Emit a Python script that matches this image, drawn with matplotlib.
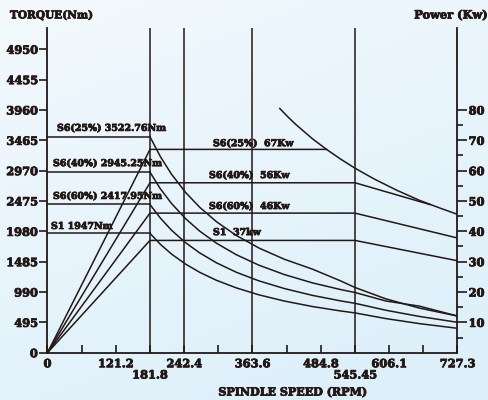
import numpy as np
import matplotlib
matplotlib.use('Agg')
import matplotlib.pyplot as plt
import matplotlib.patheffects as pe
import matplotlib.transforms as mtrans

# --- data ---
# constant torque region (0 .. base speed)
base_speed = 181.8
torque_levels = [3522.76, 2945.25, 2417.95, 1947]          # Nm
torque_labels = ['S6(25%) 3522.76Nm', 'S6(40%) 2945.25Nm', 'S6(60%) 2417.95Nm', 'S1 1947Nm']
power_labels = ['S6(25%)  67Kw', 'S6(40%)  56Kw', 'S6(60%)  46Kw', 'S1  37kw']

# torque curves above base speed (rpm, Nm)
torque_speed = [181.8, 200, 220, 245, 270, 300, 335, 375, 420, 470, 520, 545.45, 600, 660, 727.3]
torque_s6_25 = [3523, 3202, 2911, 2614, 2372, 2135, 1912, 1708, 1525, 1363, 1171, 1064, 879, 727, 598]
torque_s6_40 = [2945, 2677, 2434, 2186, 1983, 1785, 1598, 1428, 1275, 1139, 1030, 982, 844, 759, 598]
torque_s6_60 = [2418, 2198, 1998, 1794, 1628, 1465, 1312, 1172, 1047, 935, 845, 806, 693, 591, 496]
torque_s1 = [1947, 1770, 1609, 1445, 1311, 1180, 1057, 944, 843, 753, 681, 649, 557, 474, 398]

# power curves (rpm, kW)
power_s6_25_speed = [0, 181.8, 495]
power_s6_25 = [0, 67, 67]
falloff_speed = [412, 426, 440, 455, 470, 495, 520, 545.45, 580, 620, 660, 700, 727.3]
falloff_power = [80.5, 77.8, 75.3, 72.9, 70.5, 67.0, 63.8, 60.8, 57.2, 53.5, 50.2, 47.4, 45.6]
power_s6_40_speed = [0, 181.8, 545.45, 679]
power_s6_40 = [0, 56, 56, 48.8]
power_s6_60_speed = [0, 181.8, 545.45, 727.3]
power_s6_60 = [0, 46, 46, 37.8]
power_s1_speed = [0, 181.8, 545.45, 727.3]
power_s1 = [0, 37, 37, 30.3]

x_ticks = [0, 60.6, 121.2, 181.8, 242.4, 303, 363.6, 424.2, 484.8, 545.45, 606.1, 666.7, 727.3]
x_ticklabels = ['0', '', '121.2', '', '242.4', '', '363.6', '', '484.8', '', '606.1', '', '727.3']
x_lower_ticks = [181.8, 545.45]
x_lower_labels = ['181.8', '545.45']
y_ticks = [0, 495, 990, 1485, 1980, 2475, 2970, 3465, 3960, 4455, 4950]
power_ticks = [10, 20, 30, 40, 50, 60, 70, 80]
vlines = [181.8, 242.4, 363.6, 545.45]

INK = '#231815'
HEAVY = [pe.withStroke(linewidth=0.6, foreground=INK)]
FONT = dict(family='DejaVu Serif', weight='bold', color=INK, path_effects=HEAVY)

fig = plt.figure(figsize=(4.89, 4.0), dpi=100)

# light blue gradient background
bg = fig.add_axes([0, 0, 1, 1], zorder=-10)
gx, gy = np.meshgrid(np.linspace(0, 1, 200), np.linspace(0, 1, 200))
t = np.clip(0.35 * gx + 0.75 * gy, 0, 1)[..., None]
c0 = np.array([243, 249, 253]) / 255
c1 = np.array([221, 240, 250]) / 255
bg.imshow(c0 + (c1 - c0) * t, aspect='auto', extent=[0, 1, 0, 1], origin='upper')
bg.axis('off')

ax = fig.add_axes([47.5 / 489, 1 - 352.7 / 400, 410 / 489, 324.4 / 400])
ax.patch.set_alpha(0)
ax2 = ax.twinx()
ax2.patch.set_alpha(0)

ymax = 5292
ax.set_xlim(0, 727.3)
ax.set_ylim(0, ymax)
ax2.set_ylim(0, ymax / 49.5)

lw = 1.1
for v in vlines:
    ax.axvline(v, color=INK, lw=lw)

# constant torque lines
for T in torque_levels:
    ax.plot([0, base_speed], [T, T], color=INK, lw=lw)

# descending torque curves
for tc in [torque_s6_25, torque_s6_40, torque_s6_60, torque_s1]:
    ax.plot(torque_speed, tc, color=INK, lw=lw)

# power curves on right axis
ax2.plot(power_s6_25_speed, power_s6_25, color=INK, lw=lw)
ax2.plot(falloff_speed, falloff_power, color=INK, lw=lw)
ax2.plot(power_s6_40_speed, power_s6_40, color=INK, lw=lw)
ax2.plot(power_s6_60_speed, power_s6_60, color=INK, lw=lw)
ax2.plot(power_s1_speed, power_s1, color=INK, lw=lw)

# labels
tx = [16.9, 9.8, 9.8, 6.2]
ty = [3660, 3085, 2550, 2060]
for x0, y0, s in zip(tx, ty, torque_labels):
    ax.text(x0, y0, s, fontsize=6.8, va='center', ha='left', **FONT)
px = [293.6, 286.5, 286.5, 293.6]
py = [3410, 2890, 2385, 1960]
for x0, y0, s in zip(px, py, power_labels):
    ax.text(x0, y0, s, fontsize=6.8, va='center', ha='left', **FONT)

# axes styling
for a in (ax, ax2):
    a.spines['top'].set_visible(False)
    for sp in a.spines.values():
        sp.set_color(INK)
        sp.set_linewidth(1.3)
ax.spines['right'].set_visible(False)
ax2.spines['left'].set_visible(False)
ax2.spines['bottom'].set_visible(False)

ax.set_xticks(x_ticks)
ax.set_xticklabels(x_ticklabels)
ax.tick_params(axis='x', direction='in', length=6, width=1.2, color=INK, pad=4)
ax.set_yticks(y_ticks)
ax.set_yticklabels([str(v) for v in y_ticks])
ax.tick_params(axis='y', direction='out', length=6, width=1.2, color=INK, pad=1)
for lab in ax.get_xticklabels() + ax.get_yticklabels():
    lab.set_fontfamily('DejaVu Serif')
    lab.set_fontweight('bold')
    lab.set_fontsize(8.2)
    lab.set_color(INK)
    lab.set_path_effects(HEAVY)

# lower row of speed labels
trans = mtrans.blended_transform_factory(ax.transData, fig.transFigure)
for xv, s in zip(x_lower_ticks, x_lower_labels):
    ax.text(xv, 1 - 375 / 400, s, transform=trans, fontsize=8.2, ha='center', va='center', **FONT)

ax2.set_yticks(power_ticks)
ax2.set_yticklabels([str(v) for v in power_ticks])
ax2.set_yticks(np.arange(5, 85, 10), minor=True)
ax2.tick_params(axis='y', which='major', direction='out', length=7, width=1.2, color=INK, pad=1)
ax2.tick_params(axis='y', which='minor', direction='out', length=4, width=1.2, color=INK)
for lab in ax2.get_yticklabels():
    lab.set_fontfamily('DejaVu Serif')
    lab.set_fontweight('bold')
    lab.set_fontsize(8.2)
    lab.set_color(INK)
    lab.set_path_effects(HEAVY)

fig.text(10 / 489, 1 - 15 / 400, 'TORQUE(Nm)', fontsize=7.6, ha='left', va='center', **FONT)
fig.text(488 / 489, 1 - 15 / 400, 'Power (Kw)', fontsize=8.2, ha='right', va='center', **FONT)
fig.text(292.5 / 489, 1 - 392 / 400, 'SPINDLE SPEED (RPM)', fontsize=8, ha='center', va='center', **FONT)

fig.savefig('out.png', dpi=100)
